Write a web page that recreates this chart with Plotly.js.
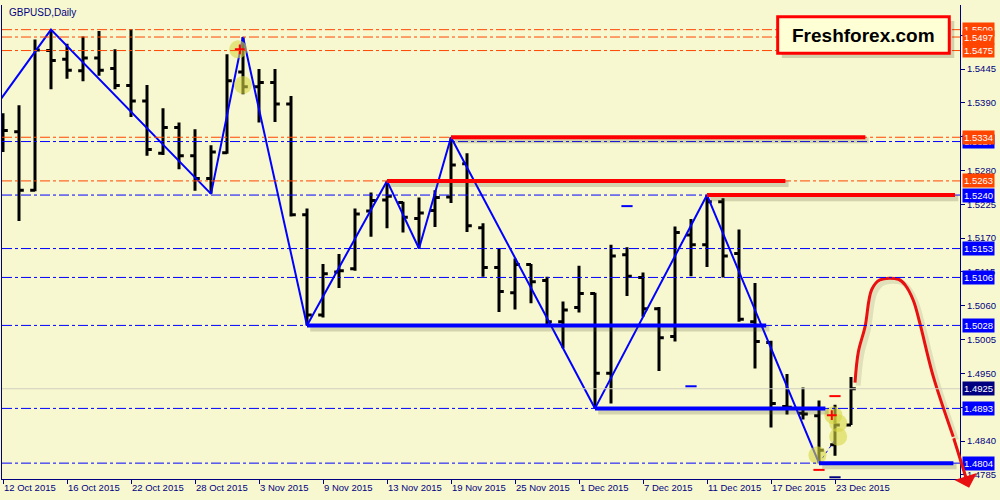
<!DOCTYPE html>
<html>
<head>
<meta charset="utf-8">
<script src="https://cdn.plot.ly/plotly-3.0.1.min.js"></script>
<style>
html,body{margin:0;padding:0;background:#F8F8D0;}
#chart{width:1000px;height:500px;}
</style>
</head>
<body>
<div id="chart"></div>
<script>
// ---- Data ----
const dates = ["12 Oct 2015","13 Oct 2015","14 Oct 2015","15 Oct 2015","16 Oct 2015","19 Oct 2015","20 Oct 2015","21 Oct 2015","22 Oct 2015","23 Oct 2015",
"26 Oct 2015","27 Oct 2015","28 Oct 2015","29 Oct 2015","30 Oct 2015","2 Nov 2015","3 Nov 2015","4 Nov 2015","5 Nov 2015","6 Nov 2015",
"9 Nov 2015","10 Nov 2015","11 Nov 2015","12 Nov 2015","13 Nov 2015","16 Nov 2015","17 Nov 2015","18 Nov 2015","19 Nov 2015","20 Nov 2015",
"23 Nov 2015","24 Nov 2015","25 Nov 2015","26 Nov 2015","27 Nov 2015","30 Nov 2015","1 Dec 2015","2 Dec 2015","3 Dec 2015","4 Dec 2015",
"7 Dec 2015","8 Dec 2015","9 Dec 2015","10 Dec 2015","11 Dec 2015","14 Dec 2015","15 Dec 2015","16 Dec 2015","17 Dec 2015","18 Dec 2015",
"21 Dec 2015","22 Dec 2015","23 Dec 2015","24 Dec 2015"];
const openP  = [1.5352,1.5343,1.5248,1.5475,1.5461,1.5442,1.5463,1.5446,1.5418,1.5393,
1.5308,1.5350,1.5304,1.5267,1.5309,1.5440,1.5416,1.5423,1.5388,1.5208,
1.5045,1.5115,1.5120,1.5214,1.5232,1.5228,1.5202,1.5215,1.5237,1.5291,
1.5187,1.5122,1.5081,1.5127,1.5101,1.5034,1.5057,1.5080,1.4950,1.5143,
1.5106,1.5055,1.5010,1.5175,1.5159,1.5229,1.5145,1.5034,1.5000,1.4896,
1.4885,1.4881,1.4834,1.4866];
const highP  = [1.5373,1.5386,1.5493,1.5509,1.5486,1.5498,1.5507,1.5477,1.5510,1.5419,
1.5381,1.5358,1.5347,1.5321,1.5469,1.5497,1.5445,1.5445,1.5401,1.5218,
1.5128,1.5144,1.5218,1.5244,1.5263,1.5229,1.5236,1.5248,1.5334,1.5308,
1.5194,1.5153,1.5137,1.5128,1.5107,1.5067,1.5125,1.5081,1.5159,1.5155,
1.5114,1.5058,1.5189,1.5201,1.5240,1.5235,1.5184,1.5097,1.5003,1.4949,
1.4927,1.4906,1.4899,1.4944];
const lowP   = [1.5310,1.5198,1.5246,1.5412,1.5429,1.5425,1.5434,1.5412,1.5367,1.5304,
1.5305,1.5282,1.5247,1.5242,1.5307,1.5404,1.5358,1.5359,1.5205,1.5028,
1.5041,1.5089,1.5117,1.5172,1.5186,1.5179,1.5153,1.5188,1.5227,1.5180,
1.5107,1.5050,1.5054,1.5064,1.5030,1.4991,1.5049,1.4893,1.4901,1.5076,
1.5042,1.4954,1.5002,1.5108,1.5123,1.5106,1.5034,1.4958,1.4862,1.4883,
1.4875,1.4804,1.4816,1.4866];
const closeP = [1.5345,1.5248,1.5476,1.5459,1.5443,1.5463,1.5443,1.5418,1.5393,1.5314,
1.5350,1.5304,1.5267,1.5310,1.5426,1.5416,1.5423,1.5388,1.5208,1.5045,
1.5112,1.5117,1.5209,1.5231,1.5238,1.5204,1.5211,1.5236,1.5289,1.5190,
1.5122,1.5083,1.5127,1.5099,1.5034,1.5053,1.5080,1.4950,1.5141,1.5108,
1.5055,1.5008,1.5179,1.5159,1.5229,1.5141,1.5038,1.5002,1.4901,1.4895,
1.4884,1.4825,1.4866,1.4925];
const tickEvery = 4;
// price-scale ticks; those hidden under level labels in the reference carry no text
const priceTicks = [1.4785,1.4840,1.4895,1.4950,1.5005,1.5060,1.5115,1.5170,1.5225,1.5280,1.5335,1.5390,1.5445,1.5500];
const hiddenTicks = [1.4895,1.5335,1.5500];

// ZigZag (bar index, price)
const zigX = [-1,3,13,15,19,24,26,28,37,44,51];
const zigY = [1.5365,1.5509,1.5242,1.5497,1.5028,1.5263,1.5153,1.5334,1.4893,1.5240,1.4804];
const zigTailX = [51,52];
const zigTailY = [1.4804,1.4842];

// Horizontal levels
const orangeLevels = [1.5509,1.5497,1.5475,1.5334,1.5263];
const blueLevels = [1.5327,1.5240,1.5153,1.5106,1.5028,1.4893,1.4804];
const bidLevel = 1.4925;

// Thick drawn segments
const redSegLevel = [1.5334,1.5263,1.5240];
const redSegStart = [28,24,44];
const redSegEnd = [53.9,48.9,59.5];
const blueSegLevel = [1.5028,1.4893,1.4804];
const blueSegStart = [19,37,51];
const blueSegEnd = [47.7,51.4,59.4];

// Highlight circles & markers
const circX = [14.7,15.0,50.9,51.9,52.2,52.2];
const circY = [1.5477,1.5419,1.4817,1.4882,1.4869,1.4847];
const crossX = [14.8,51.8];
const crossY = [1.5477,1.4882];
const blueDashX = [39,43];
const blueDashY = [1.5222,1.4929];
const redDashX = [52,51];
const redDashY = [1.4913,1.4793];
const navyDashX = [52];
const navyDashY = [1.4781];

// Forecast curve
const fcX = [53.25,53.46,53.88,54.29,54.81,55.96,56.38,56.89,57.31,58.14,59.39];
const fcY = [1.4935,1.4985,1.5026,1.5086,1.5102,1.5103,1.5094,1.5069,1.5031,1.4945,1.4847];
const fcTipX = 60.38, fcTipY = 1.4764;

// ---- Build ----
const idx = dates.map((d,i)=>i);
const tickVals = idx.filter(i=>i%tickEvery===0);
const tickText = tickVals.map(i=>dates[i]);

const BG = '#F8F8D0';
const NAVY = '#000080';
const ORANGE = '#FF4500';
const BLUE = '#0000FF';
const FONT = 'Liberation Sans, Arial, sans-serif';

const traces = [];
traces.push({type:'ohlc', x:idx, open:openP, high:highP, low:lowP, close:closeP,
  line:{width:3}, tickwidth:0.3,
  increasing:{line:{color:'#000000', width:3}},
  decreasing:{line:{color:'#000000', width:3}},
  hoverinfo:'skip', showlegend:false});
traces.push({type:'scatter', mode:'lines', x:zigX, y:zigY, line:{color:BLUE, width:2}, hoverinfo:'skip', showlegend:false});
traces.push({type:'scatter', mode:'lines', x:zigTailX, y:zigTailY, line:{color:BLUE, width:1, dash:'dot'}, hoverinfo:'skip', showlegend:false});
traces.push({type:'scatter', mode:'markers', x:circX, y:circY, marker:{size:18, color:'rgba(215,215,70,0.6)', line:{width:0}}, hoverinfo:'skip', showlegend:false, cliponaxis:false});
traces.push({type:'scatter', mode:'markers', x:crossX, y:crossY, marker:{symbol:'cross-thin', size:7, line:{color:'#FF0000', width:2}}, hoverinfo:'skip', showlegend:false});
traces.push({type:'scatter', mode:'markers', x:blueDashX, y:blueDashY, marker:{symbol:'line-ew', size:8, line:{color:BLUE, width:2}}, hoverinfo:'skip', showlegend:false});
traces.push({type:'scatter', mode:'markers', x:redDashX, y:redDashY, marker:{symbol:'line-ew', size:8, line:{color:'#FF0000', width:2}}, hoverinfo:'skip', showlegend:false});
traces.push({type:'scatter', mode:'markers', x:navyDashX, y:navyDashY, marker:{symbol:'line-ew', size:8, line:{color:NAVY, width:2}}, hoverinfo:'skip', showlegend:false});
// forecast shadow + curve
traces.push({type:'scatter', mode:'lines', x:fcX.map(v=>v+0.2), y:fcY.map(v=>v-0.0005), line:{color:'rgba(90,90,60,0.15)', width:5, shape:'spline'}, hoverinfo:'skip', showlegend:false});
traces.push({type:'scatter', mode:'lines', x:fcX, y:fcY, line:{color:'#E81010', width:3, shape:'spline'}, hoverinfo:'skip', showlegend:false});

const shapes = [];
const dashPat = '10px,3px,3px,3px';
orangeLevels.forEach(v=>shapes.push({type:'line', xref:'paper', x0:0, x1:1, yref:'y', y0:v, y1:v, line:{color:ORANGE, width:1, dash:dashPat}}));
blueLevels.forEach(v=>shapes.push({type:'line', xref:'paper', x0:0, x1:1, yref:'y', y0:v, y1:v, line:{color:BLUE, width:1, dash:dashPat}}));
shapes.push({type:'line', xref:'paper', x0:0, x1:1, yref:'y', y0:bidLevel, y1:bidLevel, line:{color:'#CFCFC0', width:1}});
function seg(levels, starts, ends, color){
  levels.forEach((v,i)=>{
    shapes.push({type:'line', xref:'x', yref:'y', x0:starts[i]+0.2, x1:ends[i]+0.2, y0:v-0.0005, y1:v-0.0005, line:{color:'rgba(80,80,50,0.22)', width:6}});
    shapes.push({type:'line', xref:'x', yref:'y', x0:starts[i], x1:ends[i], y0:v, y1:v, line:{color:color, width:4}});
  });
}
seg(redSegLevel, redSegStart, redSegEnd, '#FF0000');
seg(blueSegLevel, blueSegStart, blueSegEnd, BLUE);
// logo box (shadow + box)
shapes.push({type:'rect', xref:'paper', yref:'paper', x0:0.8140, x1:0.9940, y0:0.8880, y1:0.9660, line:{width:0}, fillcolor:'rgba(90,90,60,0.25)'});
shapes.push({type:'rect', xref:'paper', yref:'paper', x0:0.8097, x1:0.9888, y0:0.8981, y1:0.9753, line:{color:'#FF0000', width:3}, fillcolor:'#FFFFD6'});

const annotations = [];
annotations.push({xref:'paper', yref:'paper', x:0.0052, y:0.985, xanchor:'left', yanchor:'middle', showarrow:false,
  text:'GBPUSD,Daily', font:{family:FONT, size:10, color:NAVY}});
annotations.push({xref:'paper', yref:'paper', x:0.8993, y:0.9367, xanchor:'center', yanchor:'middle', showarrow:false,
  text:'<b>Freshforex.com</b>', font:{family:FONT, size:19, color:'#000000'}});
function lab(v, bg){
  annotations.push({xref:'paper', yref:'y', x:1, y:v, xanchor:'left', yanchor:'middle', xshift:2, showarrow:false,
    text:v.toFixed(4), bgcolor:bg, borderpad:1, font:{family:FONT, size:9.5, color:'#FFFFFF'}});
}
lab(blueLevels[0], BLUE);
orangeLevels.forEach(v=>lab(v, ORANGE));
blueLevels.slice(1).forEach(v=>lab(v, BLUE));
lab(bidLevel, NAVY);
// forecast arrow head
annotations.push({xref:'x', yref:'y', axref:'x', ayref:'y', x:fcTipX, y:fcTipY, ax:fcX[fcX.length-1], ay:fcY[fcY.length-1],
  text:'', showarrow:true, arrowhead:1, arrowsize:1.3, arrowwidth:3, arrowcolor:'#E81010', standoff:0, startstandoff:0});

const layout = {
  width:1000, height:500,
  margin:{l:2, r:40, t:5, b:21},
  paper_bgcolor:BG, plot_bgcolor:BG,
  showlegend:false, hovermode:false,
  xaxis:{type:'linear', range:[-0.0625, 59.8125], rangeslider:{visible:false},
    tickvals:tickVals, ticktext:tickText, ticks:'outside', ticklen:4, tickcolor:NAVY, tickwidth:1,
    ticklabelposition:'outside right',
    showline:true, linecolor:NAVY, linewidth:1, showgrid:false, zeroline:false,
    tickfont:{family:FONT, size:9.5, color:NAVY}, fixedrange:true},
  yaxis:{side:'right', range:[1.47782, 1.55491], tickvals:priceTicks,
    ticktext:priceTicks.map(v=>hiddenTicks.includes(v)?'':v.toFixed(4)),
    ticks:'outside', ticklen:4, tickcolor:NAVY, tickwidth:1,
    showline:true, mirror:true, linecolor:NAVY, linewidth:1, showgrid:false, zeroline:false,
    tickfont:{family:FONT, size:9.5, color:NAVY}, fixedrange:true},
  shapes:shapes, annotations:annotations
};
Plotly.newPlot('chart', traces, layout, {displayModeBar:false, staticPlot:true});
</script>
</body>
</html>
